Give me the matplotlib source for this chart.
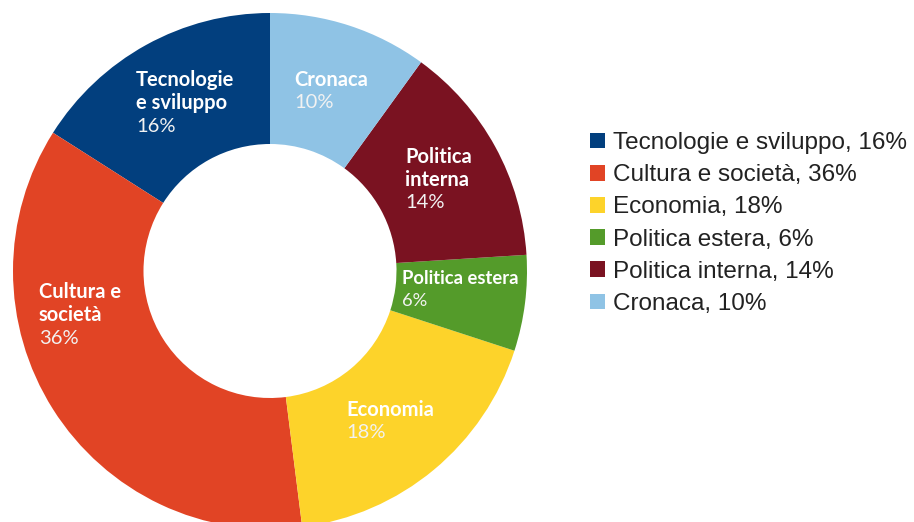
import matplotlib.pyplot as plt

# topics, counter-clockwise from 12 o'clock
categories = ['Tecnologie e sviluppo', 'Cultura e società', 'Economia',
              'Politica estera', 'Politica interna', 'Cronaca']
inner_labels = ['Tecnologie\ne sviluppo', 'Cultura e\nsocietà', 'Economia',
                'Politica estera', 'Politica\ninterna', 'Cronaca']
shares = [16, 36, 18, 6, 14, 10]

colors = ['#023F7E', '#E14425', '#FDD32A', '#549B2A', '#7A1221', '#8FC3E5']

W, H = 914, 522
fig = plt.figure(figsize=(W / 100, H / 100), dpi=100)

# donut placed in pixel units (bottom runs off the canvas)
cx, cy, rx, ry = 270, 271, 257, 258
hole = 127
ax = fig.add_axes([(cx - rx) / W, (H - cy - ry) / H, 2 * rx / W, 2 * ry / H])
wedges, _ = ax.pie(shares, colors=colors, startangle=90, counterclock=True,
                   radius=1, wedgeprops=dict(width=1 - hole / ry, linewidth=0))
ax.set_aspect('auto')
ax.set_xlim(-1, 1)
ax.set_ylim(-1, 1)
ax.axis('off')


def to_data(px, py):
    return (px - cx) / rx, (cy - py) / ry


# left edge / first line centre of each slice label, in pixels
label_pos = [(136, 80), (39, 292), (346, 410), (402, 278), (405, 157), (294, 80)]
label_size = [14.5, 14.5, 14.5, 13.2, 14.5, 14.5]  # thin green slice gets a tighter label
line_step = 23

for name, pct, (px, py), fs in zip(inner_labels, shares, label_pos, label_size):
    lines = name.split('\n')
    for j, line in enumerate(lines):
        x, y = to_data(px, py + j * line_step)
        ax.text(x, y, line, ha='left', va='center', color='white',
                family='Lato', fontweight='bold', fontsize=fs)
    x, y = to_data(px, py + len(lines) * line_step)
    ax.text(x, y, f'{pct}%', ha='left', va='center', color='#F2F2F2',
            family='Lato', fontsize=fs)

fig.legend(wedges, [f'{c}, {s}%' for c, s in zip(categories, shares)],
           loc='upper left', bbox_to_anchor=(590 / W, 1 - 132 / H),
           frameon=False, borderpad=0, borderaxespad=0,
           handlelength=0.62, handleheight=0.62, handletextpad=0.33,
           labelspacing=0.42, labelcolor='#222222',
           prop=dict(family='Liberation Sans', size=17.5))

fig.savefig('out.png', dpi=100)
